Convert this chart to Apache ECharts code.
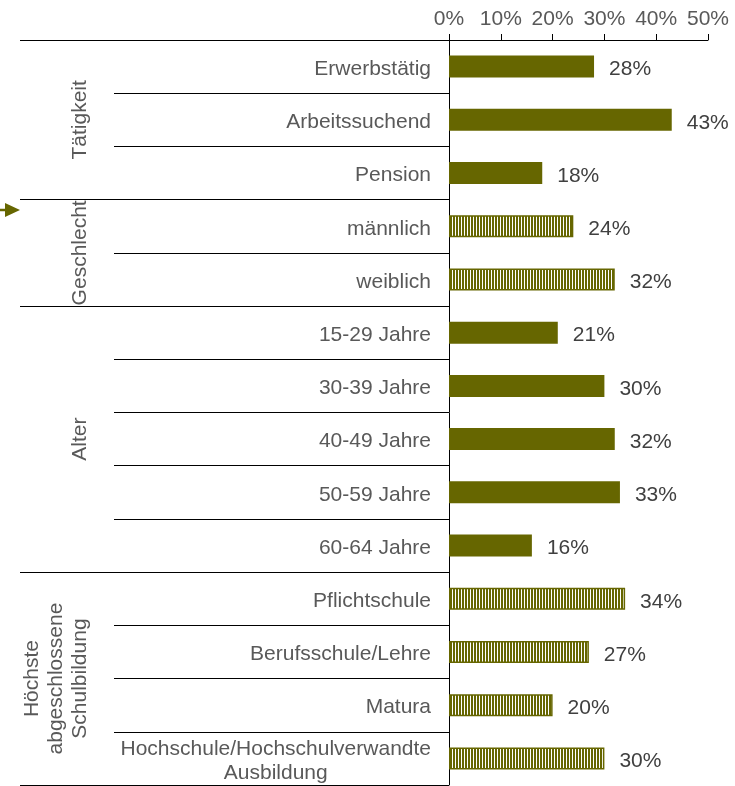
<!DOCTYPE html>
<html>
<head>
<meta charset="utf-8">
<script src="https://cdn.jsdelivr.net/npm/echarts@6/dist/echarts.min.js"></script>
<style>
  html, body { margin: 0; padding: 0; background: #fff; }
  #chart { width: 735px; height: 786px; }
</style>
</head>
<body>
<div id="chart"></div>
<script>
// Category rows, top to bottom
const categories = [
  'Erwerbstätig', 'Arbeitssuchend', 'Pension',
  'männlich', 'weiblich',
  '15-29 Jahre', '30-39 Jahre', '40-49 Jahre', '50-59 Jahre', '60-64 Jahre',
  'Pflichtschule', 'Berufsschule/Lehre', 'Matura', 'Hochschule/Hochschulverwandte Ausbildung'
];
// Share in percent per row
const values = [28, 43, 18, 24, 32, 21, 30, 32, 33, 16, 34, 27, 20, 30];
// Rows drawn with the striped fill
const striped = [false, false, false, true, true, false, false, false, false, false, true, true, true, true];
// Groups: label, first row, last row
const groupNames = ['Tätigkeit', 'Geschlecht', 'Alter', 'Höchste\nabgeschlossene\nSchulbildung'];
const groupStart = [0, 3, 5, 10];
const groupEnd = [2, 4, 9, 13];
// Value axis ticks
const axisMax = 50;
const axisStep = 10;

const OLIVE = '#666600';
const FONT = "'Liberation Sans', Arial, sans-serif";

// vertical stripe fill
const stripe = document.createElement('canvas');
stripe.width = 3; stripe.height = 3;
const sctx = stripe.getContext('2d');
sctx.fillStyle = '#ffffff';
sctx.fillRect(0, 0, 3, 3);
sctx.fillStyle = OLIVE;
sctx.fillRect(0, 0, 2, 3);

const barData = values.map((v, i) => ({
  value: v,
  itemStyle: striped[i]
    ? { color: { image: stripe, repeat: 'repeat' }, borderColor: OLIVE, borderWidth: 1.5 }
    : { color: OLIVE }
}));

const groupData = groupNames.map((n, i) => [0, groupStart[i], groupEnd[i], n]);

const chart = echarts.init(document.getElementById('chart'), null, { renderer: 'canvas' });

chart.setOption({
  animation: false,
  backgroundColor: '#ffffff',
  grid: { left: 449, right: 27, top: 40, bottom: 1, containLabel: false },
  xAxis: {
    type: 'value',
    position: 'top',
    min: 0, max: axisMax, interval: axisStep,
    axisLine: { show: true, lineStyle: { color: '#000', width: 1 } },
    axisTick: { show: true, length: 6, lineStyle: { color: '#000', width: 1 } },
    splitLine: { show: false },
    axisLabel: {
      formatter: '{value}%', color: '#595959', fontSize: 21, fontFamily: FONT, margin: 10
    }
  },
  yAxis: [
    {
      type: 'category',
      data: categories,
      inverse: true,
      position: 'left',
      axisLine: { show: true, lineStyle: { color: '#000', width: 1 } },
      axisTick: { show: true, interval: 0, length: 335, lineStyle: { color: '#000', width: 1 } },
      axisLabel: {
        interval: 0, margin: 18, color: '#595959', fontSize: 21, fontFamily: FONT,
        padding: [5, 0, 0, 0],
        formatter: function (v) {
          if (v.indexOf('Hochschule/') === 0) {
            return '{c|Hochschule/Hochschulverwandte}\n{c|Ausbildung}';
          }
          return v;
        },
        rich: {
          c: { align: 'center', fontSize: 21, fontFamily: FONT, color: '#595959', lineHeight: 24 }
        }
      }
    },
    {
      type: 'category',
      data: categories,
      inverse: true,
      position: 'left',
      axisLine: { show: false },
      axisLabel: { show: false },
      axisTick: {
        show: true, length: 429,
        interval: function (idx) { return groupStart.indexOf(idx) !== -1; },
        lineStyle: { color: '#000', width: 1 }
      }
    }
  ],
  series: [
    {
      type: 'bar',
      yAxisIndex: 0,
      data: barData,
      barWidth: 22,
      label: {
        show: true, position: 'right', distance: 15, offset: [0, 3],
        formatter: '{c}%', color: '#404040', fontSize: 21, fontFamily: FONT
      }
    },
    {
      type: 'custom',
      yAxisIndex: 0,
      silent: true,
      encode: { x: 0, y: 1 },
      data: groupData,
      renderItem: function (params, api) {
        const a = api.coord([0, api.value(1)]);
        const b = api.coord([0, api.value(2)]);
        const name = groupNames[params.dataIndex];
        return {
          type: 'text',
          x: a[0] - 357,
          y: (a[1] + b[1]) / 2,
          rotation: Math.PI / 2,
          style: {
            text: name, fill: '#595959', font: '21px ' + FONT,
            align: 'center', verticalAlign: 'bottom', lineHeight: 24
          }
        };
      }
    }
  ],
  graphic: [
    {
      type: 'line', shape: { x1: 0, y1: 210, x2: 8, y2: 210 },
      style: { stroke: OLIVE, lineWidth: 2.5 }
    },
    {
      type: 'polygon', shape: { points: [[5, 203], [20, 210], [5, 217]] },
      style: { fill: OLIVE }
    }
  ]
});
</script>
</body>
</html>
